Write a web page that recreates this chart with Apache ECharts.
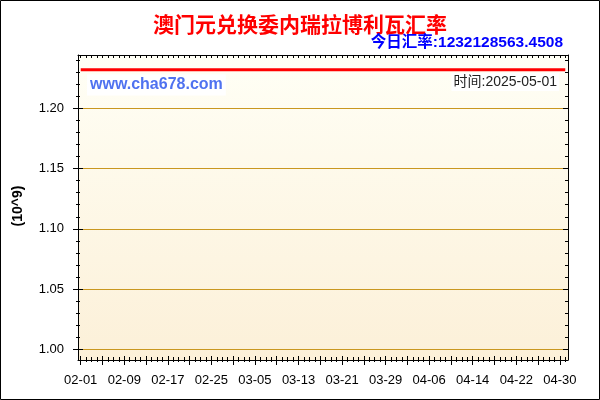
<!DOCTYPE html>
<html>
<head>
<meta charset="utf-8">
<script src="https://cdn.jsdelivr.net/npm/echarts@6/dist/echarts.min.js"></script>
<style>
html,body{margin:0;padding:0;background:#fff;}
#chart{width:600px;height:400px;}
</style>
</head>
<body>
<div id="chart"></div>
<script>
var titleText = '澳门元兑换委内瑞拉博利瓦汇率';
var subtitleText = '今日汇率:1232128563.4508';
var siteText = 'www.cha678.com';
var timeText = '时间:2025-05-01';
var unitText = '(10^9)';

var dates = [
'02-01','02-02','02-03','02-04','02-05','02-06','02-07','02-08','02-09','02-10',
'02-11','02-12','02-13','02-14','02-15','02-16','02-17','02-18','02-19','02-20',
'02-21','02-22','02-23','02-24','02-25','02-26','02-27','02-28',
'03-01','03-02','03-03','03-04','03-05','03-06','03-07','03-08','03-09','03-10',
'03-11','03-12','03-13','03-14','03-15','03-16','03-17','03-18','03-19','03-20',
'03-21','03-22','03-23','03-24','03-25','03-26','03-27','03-28','03-29','03-30','03-31',
'04-01','04-02','04-03','04-04','04-05','04-06','04-07','04-08','04-09','04-10',
'04-11','04-12','04-13','04-14','04-15','04-16','04-17','04-18','04-19','04-20',
'04-21','04-22','04-23','04-24','04-25','04-26','04-27','04-28','04-29','04-30',
'05-01'
];

var rates = [
1.2321,1.2321,1.2321,1.2321,1.2321,1.2321,1.2321,1.2321,1.2321,1.2321,
1.2321,1.2321,1.2321,1.2321,1.2321,1.2321,1.2321,1.2321,1.2321,1.2321,
1.2321,1.2321,1.2321,1.2321,1.2321,1.2321,1.2321,1.2321,
1.2321,1.2321,1.2321,1.2321,1.2321,1.2321,1.2321,1.2321,1.2321,1.2321,
1.2321,1.2321,1.2321,1.2321,1.2321,1.2321,1.2321,1.2321,1.2321,1.2321,
1.2321,1.2321,1.2321,1.2321,1.2321,1.2321,1.2321,1.2321,1.2321,1.2321,1.2321,
1.2321,1.2321,1.2321,1.2321,1.2321,1.2321,1.2321,1.2321,1.2321,1.2321,
1.2321,1.2321,1.2321,1.2321,1.2321,1.2321,1.2321,1.2321,1.2321,1.2321,
1.2321,1.2321,1.2321,1.2321,1.2321,1.2321,1.2321,1.2321,1.2321,1.2321,
1.2321
];

var yTicks = [1.00, 1.05, 1.10, 1.15, 1.20];
var yMin = 0.9911;
var yMax = 1.2443;

var chart = echarts.init(document.getElementById('chart'), null, {renderer: 'canvas'});

var FONT = '"Liberation Sans", Arial, "Noto Sans CJK SC", sans-serif';
var CJK = '"Noto Sans CJK SC", "Liberation Sans", sans-serif';
var tickColor = '#000';

function catAxis(pos, opts) {
  var base = {
    type: 'category',
    position: pos,
    data: dates,
    boundaryGap: true,
    axisLine: {show: false},
    axisTick: {show: false},
    axisLabel: {show: false},
    splitLine: {show: false},
    z: 3
  };
  for (var k in opts) base[k] = opts[k];
  return base;
}

function valAxis(pos, opts) {
  var base = {
    type: 'value',
    position: pos,
    min: yMin,
    max: yMax,
    splitNumber: 5,
    axisLine: {show: false},
    axisTick: {show: false},
    axisLabel: {show: false},
    splitLine: {show: false},
    minorTick: {show: false}
  };
  for (var k in opts) base[k] = opts[k];
  return base;
}

var option = {
  animation: false,
  backgroundColor: '#fff',
  grid: {
    left: 78, right: 32, top: 55, bottom: 40,
    show: true,
    borderWidth: 0,
    backgroundColor: {
      type: 'linear', x: 0, y: 0, x2: 0, y2: 1,
      colorStops: [{offset: 0, color: '#fffff6'}, {offset: 1, color: '#fcf0d8'}]
    }
  },
  xAxis: [
    catAxis('bottom', {
      axisLine: {show: true, lineStyle: {color: tickColor, width: 1}},
      axisTick: {show: true, alignWithLabel: true, interval: 3, length: 5, lineStyle: {color: tickColor}},
      axisLabel: {show: true, interval: 7, fontSize: 13, color: '#000', fontFamily: FONT, margin: 14}
    }),
    catAxis('bottom', {
      axisTick: {show: true, inside: true, alignWithLabel: true, interval: 3, length: 4, lineStyle: {color: tickColor}}
    }),
    catAxis('bottom', {
      axisTick: {show: true, alignWithLabel: true, interval: 0, length: 2, lineStyle: {color: tickColor}}
    }),
    catAxis('bottom', {
      axisTick: {show: true, inside: true, alignWithLabel: true, interval: 0, length: 3, lineStyle: {color: tickColor}}
    }),
    catAxis('top', {
      axisLine: {show: true, lineStyle: {color: tickColor, width: 1}},
      axisTick: {show: true, inside: true, alignWithLabel: true, interval: 0, length: 3, lineStyle: {color: tickColor}}
    })
  ],
  yAxis: [
    valAxis('left', {
      axisLine: {show: true, lineStyle: {color: tickColor, width: 1}},
      axisTick: {show: true, length: 5, customValues: yTicks, lineStyle: {color: tickColor}},
      minorTick: {show: true, splitNumber: 5, length: 2, lineStyle: {color: tickColor}},
      axisLabel: {show: true, customValues: yTicks, fontSize: 13, color: '#000', fontFamily: FONT, margin: 14,
        formatter: function (v) { return v.toFixed(2); }},
      splitLine: {show: true, lineStyle: {color: '#c9971f', width: 1}}
    }),
    valAxis('left', {
      axisTick: {show: true, inside: true, length: 5, customValues: yTicks, lineStyle: {color: tickColor}},
      minorTick: {show: true, splitNumber: 5, length: 2, lineStyle: {color: tickColor}}
    }),
    valAxis('right', {
      axisLine: {show: true, lineStyle: {color: tickColor, width: 1}},
      axisTick: {show: true, inside: true, length: 5, customValues: yTicks, lineStyle: {color: tickColor}},
      minorTick: {show: true, splitNumber: 5, length: 3, lineStyle: {color: tickColor}}
    })
  ],
  series: [{
    type: 'line',
    xAxisIndex: 0,
    yAxisIndex: 0,
    data: rates,
    symbol: 'none',
    showSymbol: false,
    lineStyle: {color: '#ff0000', width: 3},
    z: 5
  }],
  graphic: [
    {type: 'rect', shape: {x: 0.5, y: 0.5, width: 599, height: 399}, style: {fill: null, stroke: '#000', lineWidth: 1}, z: 10},
    {type: 'text', x: 300, y: 24, z: 10, style: {text: titleText, fill: '#ff0000', fontSize: 21, fontWeight: 'bold', fontFamily: CJK, align: 'center', verticalAlign: 'middle'}},
    {type: 'text', x: 563, y: 43, z: 10, style: {text: subtitleText, fill: '#0000ff', fontSize: 15.5, fontWeight: 'bold', fontFamily: FONT, align: 'right', verticalAlign: 'middle'}},
    {type: 'text', x: 87, y: 85, z: 10, style: {text: siteText, fill: '#4f72f0', fontSize: 16, fontWeight: 'bold', fontFamily: FONT, align: 'left', verticalAlign: 'middle', backgroundColor: '#ffffff', padding: [3, 3, 2, 3]}},
    {type: 'text', x: 559, y: 82, z: 10, style: {text: timeText, fill: '#222', fontSize: 14, fontFamily: FONT, align: 'right', verticalAlign: 'middle', backgroundColor: '#ffffff', padding: [2, 2, 2, 2]}},
    {type: 'text', x: 18, y: 206, rotation: Math.PI / 2, z: 10, style: {text: unitText, fill: '#000', fontSize: 14, fontWeight: 'bold', fontFamily: FONT, align: 'center', verticalAlign: 'middle'}}
  ]
};

chart.setOption(option);
</script>
</body>
</html>
